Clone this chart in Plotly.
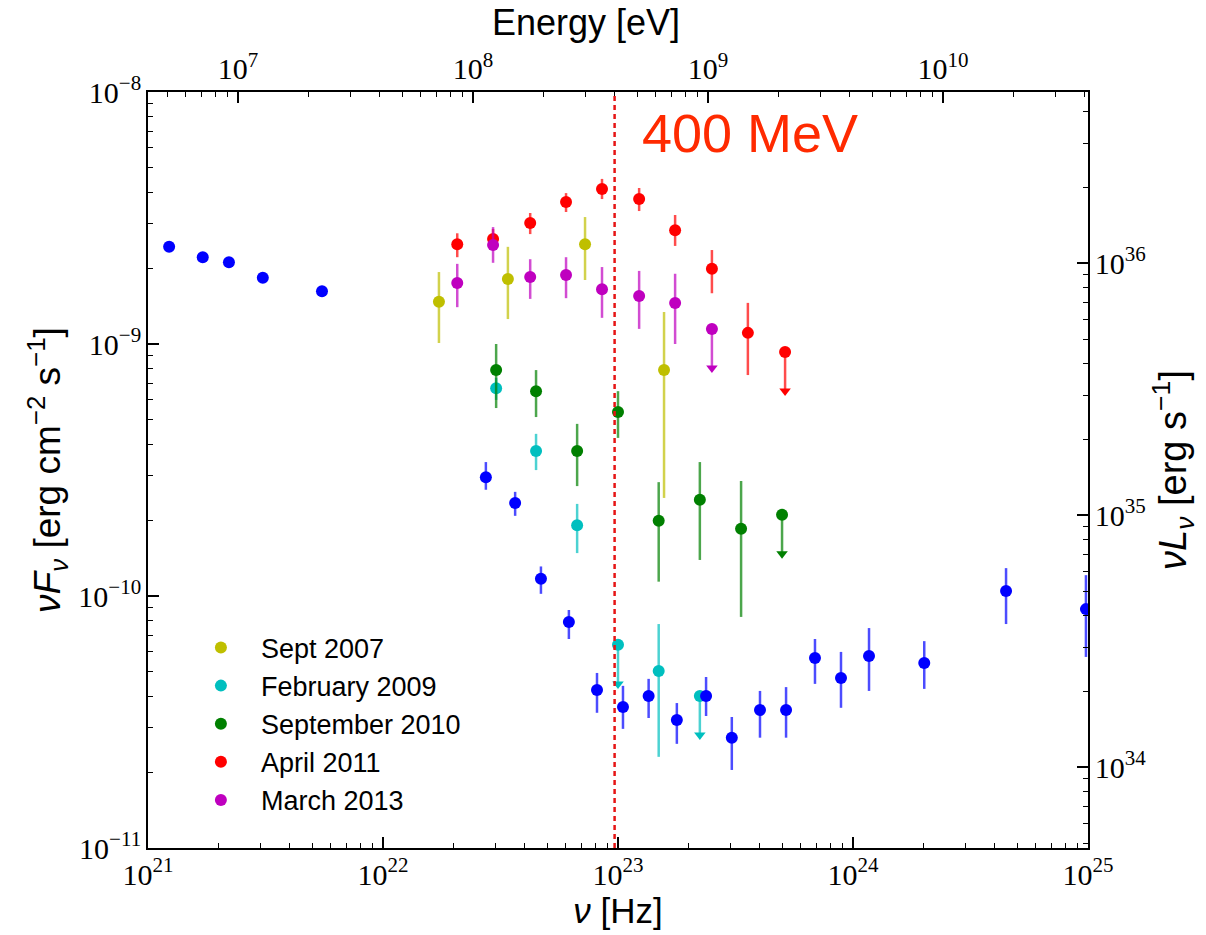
import numpy as np
import plotly.graph_objects as go

H_EV_S = 4.135667696e-15          # Planck constant [eV s]
DIST_CM = 2.0 * 3.0857e21          # 2 kpc
LUM_FACTOR = 4 * np.pi * DIST_CM ** 2
E_LINE_EV = 4e8                    # 400 MeV
UL_FRAC = 0.3                      # upper-limit arrow length (fraction of value)

# ---------------- data ----------------
# reference (blue) SED
blue_nu = [1.23e21, 1.71e21, 2.21e21, 3.08e21, 5.50e21, 2.74e22, 3.65e22, 4.70e22,
           6.18e22, 8.14e22, 1.05e23, 1.35e23, 1.78e23, 2.37e23, 3.05e23, 4.02e23,
           5.19e23, 6.89e23, 8.89e23, 1.17e24, 2.01e24, 4.48e24, 9.80e24]
blue_f = [2.43e-9, 2.21e-9, 2.11e-9, 1.83e-9, 1.62e-9, 2.96e-10, 2.34e-10, 1.17e-10,
          7.89e-11, 4.24e-11, 3.63e-11, 4.01e-11, 3.22e-11, 4.01e-11, 2.74e-11, 3.53e-11,
          3.53e-11, 5.68e-11, 4.73e-11, 5.78e-11, 5.42e-11, 1.047e-10, 8.87e-11]
blue_hi = [2.48e-9, 2.25e-9, 2.15e-9, 1.87e-9, 1.70e-9, 3.40e-10, 2.59e-10, 1.31e-10,
           8.80e-11, 4.95e-11, 4.40e-11, 4.69e-11, 3.76e-11, 4.77e-11, 3.31e-11, 4.20e-11,
           4.35e-11, 6.75e-11, 6.00e-11, 7.46e-11, 6.62e-11, 1.29e-10, 1.21e-10]
blue_lo = [2.38e-9, 2.17e-9, 2.07e-9, 1.79e-9, 1.54e-9, 2.64e-10, 2.08e-10, 1.02e-10,
           6.75e-11, 3.44e-11, 2.97e-11, 3.28e-11, 2.59e-11, 3.34e-11, 2.04e-11, 2.74e-11,
           2.74e-11, 4.48e-11, 3.60e-11, 4.20e-11, 4.28e-11, 7.74e-11, 5.73e-11]

# Sept 2007
sep07_nu = [1.73e22, 3.40e22, 7.24e22, 1.57e23]
sep07_f = [1.47e-9, 1.81e-9, 2.49e-9, 7.88e-10]
sep07_hi = [1.93e-9, 2.43e-9, 3.19e-9, 1.34e-9]
sep07_lo = [1.009e-9, 1.256e-9, 1.795e-9, 2.45e-10]
sep07_ul = [0, 0, 0, 0]

# February 2009
feb09_nu = [3.03e22, 4.48e22, 6.70e22, 1.00e23, 1.49e23, 2.23e23]
feb09_f = [6.68e-10, 3.76e-10, 1.91e-10, 6.40e-11, 5.04e-11, 4.01e-11]
feb09_hi = [7.33e-10, 4.40e-10, 2.32e-10, 6.40e-11, 7.74e-11, 4.01e-11]
feb09_lo = [6.00e-10, 3.16e-10, 1.48e-10, 6.40e-11, 2.30e-11, 4.01e-11]
feb09_ul = [0, 0, 0, 1, 0, 1]

# September 2010
sep10_nu = [3.03e22, 4.48e22, 6.70e22, 1.00e23, 1.49e23, 2.23e23, 3.34e23, 4.99e23]
sep10_f = [7.88e-10, 6.50e-10, 3.76e-10, 5.37e-10, 1.99e-10, 2.41e-10, 1.85e-10, 2.10e-10]
sep10_hi = [1.00e-9, 7.88e-10, 4.82e-10, 6.50e-10, 2.83e-10, 3.40e-10, 2.86e-10, 2.10e-10]
sep10_lo = [5.57e-10, 5.13e-10, 2.73e-10, 4.24e-10, 1.14e-10, 1.39e-10, 8.26e-11, 2.10e-10]
sep10_ul = [0, 0, 0, 0, 0, 0, 0, 1]

# April 2011
apr11_nu = [2.07e22, 2.94e22, 4.23e22, 6.01e22, 8.55e22, 1.23e23, 1.75e23, 2.51e23, 3.57e23, 5.14e23]
apr11_f = [2.49e-9, 2.61e-9, 3.02e-9, 3.66e-9, 4.12e-9, 3.76e-9, 2.83e-9, 1.99e-9, 1.107e-9, 9.29e-10]
apr11_hi = [2.75e-9, 2.86e-9, 3.31e-9, 3.97e-9, 4.52e-9, 4.16e-9, 3.25e-9, 2.36e-9, 1.456e-9, 9.29e-10]
apr11_lo = [2.21e-9, 2.36e-9, 2.73e-9, 3.34e-9, 3.76e-9, 3.37e-9, 2.45e-9, 1.59e-9, 7.53e-10, 9.29e-10]
apr11_ul = [0, 0, 0, 0, 0, 0, 0, 0, 0, 1]

# March 2013
mar13_nu = [2.07e22, 2.94e22, 4.23e22, 6.01e22, 8.55e22, 1.23e23, 1.75e23, 2.51e23]
mar13_f = [1.746e-9, 2.47e-9, 1.845e-9, 1.88e-9, 1.65e-9, 1.55e-9, 1.455e-9, 1.148e-9]
mar13_hi = [2.08e-9, 2.91e-9, 2.17e-9, 2.21e-9, 2.02e-9, 1.95e-9, 1.90e-9, 1.148e-9]
mar13_lo = [1.40e-9, 2.10e-9, 1.51e-9, 1.52e-9, 1.27e-9, 1.148e-9, 1.00e-9, 1.148e-9]
mar13_ul = [0, 0, 0, 0, 0, 0, 0, 1]

series = [
    ("Sept 2007", sep07_nu, sep07_f, sep07_hi, sep07_lo, sep07_ul, (191, 191, 0)),
    ("February 2009", feb09_nu, feb09_f, feb09_hi, feb09_lo, feb09_ul, (0, 191, 191)),
    ("September 2010", sep10_nu, sep10_f, sep10_hi, sep10_lo, sep10_ul, (0, 128, 0)),
    ("April 2011", apr11_nu, apr11_f, apr11_hi, apr11_lo, apr11_ul, (255, 0, 0)),
    ("March 2013", mar13_nu, mar13_f, mar13_hi, mar13_lo, mar13_ul, (191, 0, 191)),
]

fig = go.Figure()


def add_series(name, nu, f, hi, lo, ul, rgb, legend=True, group=None):
    f = np.array(f, float)
    hi = np.array(hi, float)
    lo = np.array(lo, float)
    ul = np.array(ul, bool)
    plus = np.where(ul, 0.0, hi - f)
    minus = np.where(ul, UL_FRAC * f, f - lo)
    solid = "rgb(%d,%d,%d)" % rgb
    faded = "rgba(%d,%d,%d,0.7)" % rgb
    fig.add_trace(go.Scatter(
        x=nu, y=f, mode="markers", name=name, showlegend=legend,
        legendgroup=group or name,
        marker=dict(color=solid, size=12, line=dict(width=0)),
        error_y=dict(type="data", symmetric=False, array=plus, arrayminus=minus,
                     color=faded, thickness=2.5, width=0),
    ))
    if ul.any():
        nu_a = np.array(nu, float)[ul]
        tip = f[ul] * (1 - UL_FRAC)
        fig.add_trace(go.Scatter(
            x=nu_a, y=tip, mode="markers", showlegend=False,
            legendgroup=group or name, hoverinfo="skip",
            marker=dict(color=solid, size=10, symbol="triangle-down",
                        line=dict(width=0)),
        ))


for name, nu, f, hi, lo, ul, rgb in series:
    add_series(name, nu, f, hi, lo, ul, rgb)

add_series("reference", blue_nu, blue_f, blue_hi, blue_lo, [0] * len(blue_nu),
           (0, 0, 255), legend=False)

# invisible trace binding the secondary axes
fig.add_trace(go.Scatter(
    x=[1e21 * H_EV_S, 1e25 * H_EV_S], y=[1e-11 * LUM_FACTOR, 1e-8 * LUM_FACTOR],
    xaxis="x2", yaxis="y2", mode="markers", marker=dict(opacity=0),
    showlegend=False, hoverinfo="skip"))

nu_line = E_LINE_EV / H_EV_S
fig.add_shape(type="line", xref="x", yref="paper", x0=nu_line, x1=nu_line, y0=0, y1=1,
              line=dict(color="rgb(230,20,20)", width=2.5, dash="5px,4px"), layer="above")

fig.add_annotation(x=np.log10(nu_line) + 0.11, y=np.log10(6.85e-9), xref="x", yref="y",
                   text="400 MeV", showarrow=False, xanchor="left", yanchor="middle",
                   font=dict(family="Liberation Sans", size=54, color="#ff2a00"))

# top axis title
fig.add_annotation(x=0.466, y=1.092, xref="paper", yref="paper", text="Energy [eV]",
                   showarrow=False, xanchor="center", yanchor="middle",
                   font=dict(family="Liberation Sans", size=36, color="black"))

tick_font = dict(family="Liberation Serif", size=24, color="black")
common = dict(type="log", dtick=1, exponentformat="power", showexponent="all",
              ticks="inside", ticklen=11, tickwidth=1.5, tickcolor="black",
              showline=True, linecolor="black", linewidth=2, showgrid=False,
              zeroline=False, tickfont=tick_font,
              minor=dict(ticks="inside", ticklen=5, tickwidth=1, tickcolor="black",
                         dtick="D1", showgrid=False))

fig.update_layout(
    width=1206, height=935,
    margin=dict(l=148, r=118, t=92, b=87),
    paper_bgcolor="white", plot_bgcolor="white",
    xaxis=dict(range=[21, 25], anchor="y",
               title=dict(text="<i>ν</i> [Hz]", standoff=6,
                          font=dict(family="Liberation Sans", size=35, color="black")),
               **common),
    xaxis2=dict(range=[np.log10(1e21 * H_EV_S), np.log10(1e25 * H_EV_S)],
                overlaying="x", side="top", anchor="y", **common),
    yaxis=dict(range=[-11, -8], anchor="x",
               title=dict(text="<i>νF</i><sub><i>ν</i></sub> [erg cm<sup>−2</sup> s<sup>−1</sup>]",
                          font=dict(family="Liberation Sans", size=37, color="black"),
                          standoff=6), **common),
    yaxis2=dict(range=[np.log10(1e-11 * LUM_FACTOR), np.log10(1e-8 * LUM_FACTOR)],
                overlaying="y", side="right", anchor="x",
                title=dict(text="<i>νL</i><sub><i>ν</i></sub> [erg s<sup>−1</sup>]",
                           font=dict(family="Liberation Sans", size=38, color="black"),
                           standoff=12), **common),
    legend=dict(x=0.035, y=0.297, xanchor="left", yanchor="top",
                bgcolor="rgba(0,0,0,0)", borderwidth=0, itemwidth=70,
                font=dict(family="Liberation Sans", size=27, color="black"),
                traceorder="grouped", tracegroupgap=0),
    showlegend=True,
)

fig.write_html("out.html")
